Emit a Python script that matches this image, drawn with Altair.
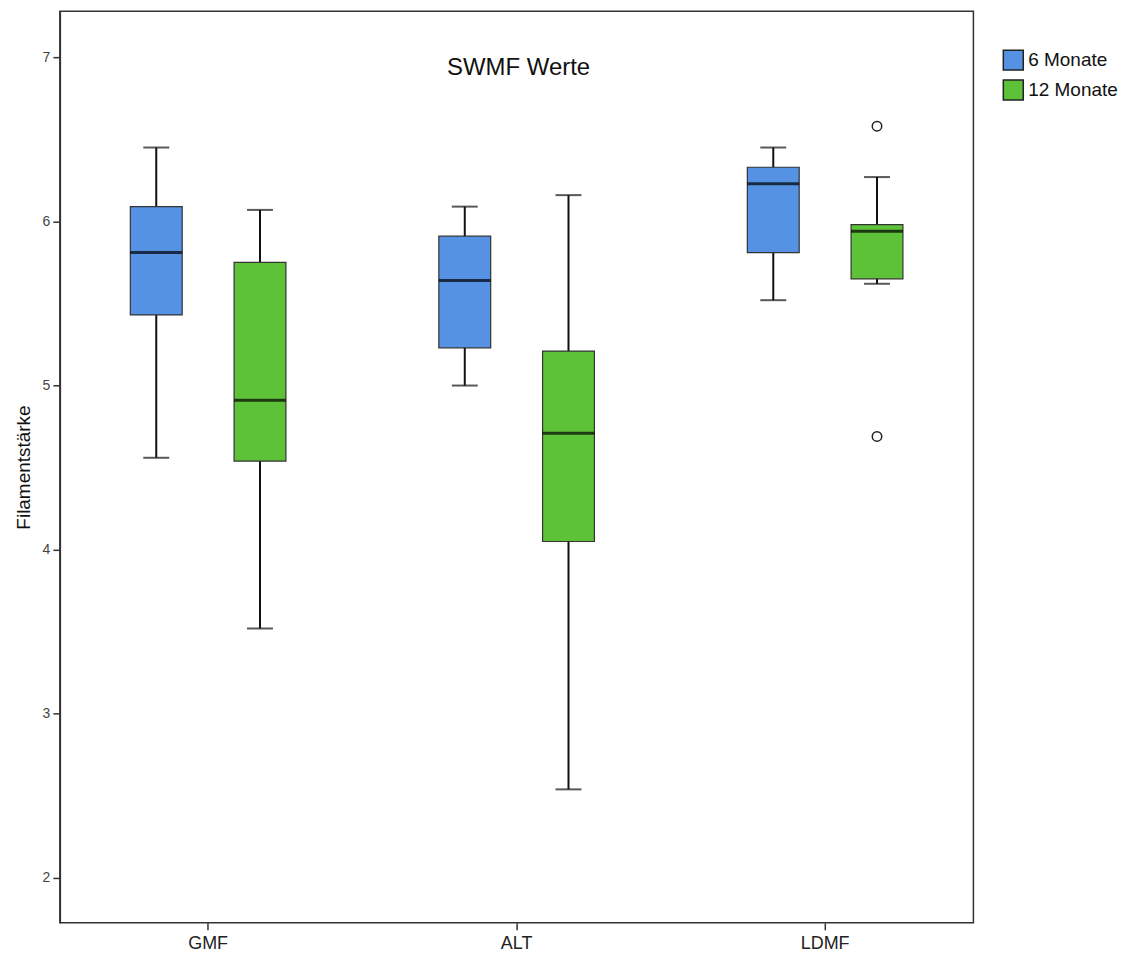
import altair as alt
import pandas as pd

categories = ["GMF", "ALT", "LDMF"]
series = ["6 Monate", "12 Monate"]

# per (category, series): whisker low, Q1, median, Q3, whisker high
cat_col    = ["GMF", "GMF", "ALT", "ALT", "LDMF", "LDMF"]
ser_col    = ["6 Monate", "12 Monate", "6 Monate", "12 Monate", "6 Monate", "12 Monate"]
whisk_low  = [4.56, 3.52, 5.00, 2.54, 5.52, 5.62]
q1         = [5.43, 4.54, 5.23, 4.05, 5.81, 5.65]
medians    = [5.81, 4.91, 5.64, 4.71, 6.23, 5.94]
q3         = [6.09, 5.75, 5.91, 5.21, 6.33, 5.98]
whisk_high = [6.45, 6.07, 6.09, 6.16, 6.45, 6.27]

out_cat = ["LDMF", "LDMF"]
out_ser = ["12 Monate", "12 Monate"]
out_val = [6.58, 4.69]

colors = ["#5592E3", "#5EC238"]

df = pd.DataFrame({
    "cat": cat_col, "ser": ser_col, "lo": whisk_low, "q1": q1,
    "med": medians, "q3": q3, "hi": whisk_high,
})
dfo = pd.DataFrame({"cat": out_cat, "ser": out_ser, "val": out_val})

FONT = "Liberation Sans"

x_enc = alt.X("cat:N", sort=categories,
              scale=alt.Scale(domain=categories, paddingInner=0, paddingOuter=0,
                              range=[-6, 922]),
              axis=alt.Axis(title=None, labelAngle=0, tickSize=7, labelFontSize=18,
                            labelColor="#222", labelFont=FONT, labelPadding=5,
                            domain=False, tickColor="#333", tickWidth=1.5))
xo_enc = alt.XOffset("ser:N", sort=series,
                     scale=alt.Scale(domain=series, paddingInner=0, paddingOuter=0.487))
y_scale = alt.Scale(domain=[1.727, 7.28], nice=False, zero=False)
y_axis = alt.Axis(title="Filamentstärke", values=[2, 3, 4, 5, 6, 7], grid=False,
                  tickSize=7, labelFontSize=14, labelColor="#444", labelFont=FONT,
                  labelPadding=3,
                  titleFont=FONT, titleFontSize=19, titleFontWeight="normal",
                  titleColor="#111", titlePadding=9, domainColor="#333",
                  tickColor="#333", domainWidth=1.5, tickWidth=1.5)

base = alt.Chart(df)

whisk = base.mark_rule(color="#111", strokeWidth=2).encode(
    x=x_enc, xOffset=xo_enc,
    y=alt.Y("lo:Q", scale=y_scale, axis=y_axis), y2="hi:Q")

caps_lo = base.mark_tick(color="#111", size=26, thickness=2, orient="horizontal").encode(
    x=x_enc, xOffset=xo_enc, y=alt.Y("lo:Q", scale=y_scale, axis=y_axis))
caps_hi = base.mark_tick(color="#111", size=26, thickness=2, orient="horizontal").encode(
    x=x_enc, xOffset=xo_enc, y=alt.Y("hi:Q", scale=y_scale, axis=y_axis))

boxes = base.mark_bar(size=52, stroke="#333", strokeWidth=1.2).encode(
    x=x_enc, xOffset=xo_enc,
    y=alt.Y("q1:Q", scale=y_scale, axis=y_axis), y2="q3:Q",
    color=alt.Color("ser:N", sort=series,
                    scale=alt.Scale(domain=series, range=colors),
                    legend=alt.Legend(title=None, orient="none", legendX=945, legendY=38,
                                      symbolType="square", symbolSize=400,
                                      symbolStrokeColor="#222", symbolStrokeWidth=1.5,
                                      labelFontSize=19, labelFont=FONT, labelColor="#111",
                                      labelOffset=4, rowPadding=4)))

med = base.mark_tick(color="black", size=52, thickness=3, orient="horizontal").encode(
    x=x_enc, xOffset=xo_enc, y=alt.Y("med:Q", scale=y_scale, axis=y_axis))

outl = alt.Chart(dfo).mark_point(shape="circle", size=90, filled=False, color="#222",
                                 strokeWidth=1.5, opacity=1).encode(
    x=x_enc, xOffset=xo_enc, y=alt.Y("val:Q", scale=y_scale, axis=y_axis))

title = alt.Chart(pd.DataFrame({"t": ["SWMF Werte"]})).mark_text(
    font=FONT, fontSize=24, color="#111", align="center", baseline="alphabetic").encode(
    x=alt.value(460), y=alt.value(64), text="t:N")

chart = alt.layer(whisk, caps_lo, caps_hi, boxes, med, outl, title).properties(
    width=916, height=914,
    autosize=alt.AutoSizeParams(type="none"),
    padding={"left": 52, "top": 2, "right": 150, "bottom": 40},
).configure(background="white").configure_view(stroke="#333", strokeWidth=1.5)

chart.save("out.html", embed_options={"renderer": "svg", "actions": False})
